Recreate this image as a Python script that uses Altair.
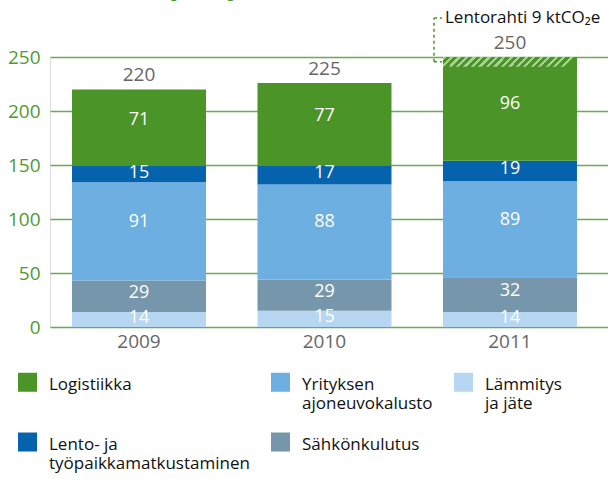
import altair as alt
import pandas as pd

# ---- data ----
years = ["2009", "2010", "2011"]
lammitys = [14, 15, 14]          # Lämmitys ja jäte
sahko = [29, 29, 32]             # Sähkönkulutus
ajoneuvo = [91, 88, 89]          # Yrityksen ajoneuvokalusto
lento = [15, 17, 19]             # Lento- ja työpaikkamatkustaminen
logistiikka = [71, 77, 96]       # Logistiikka
totals = [220, 225, 250]
lentorahti = [0, 0, 9]           # part of Logistiikka (hatched)
annotation_text = "Lentorahti 9 ktCO₂e"
annotation_level = 286           # height of the annotation label (value units)
title_text = "Hiilijalanjälki, ktCO₂"   # cropped heading at the top edge

stack_order = ["Lämmitys ja jäte", "Sähkönkulutus", "Yrityksen ajoneuvokalusto",
               "Lento- ja työpaikkamatkustaminen", "Logistiikka"]
series = [lammitys, sahko, ajoneuvo, lento, logistiikka]
legend_order = ["Logistiikka", "Yrityksen ajoneuvokalusto", "Lämmitys ja jäte",
                "Lento- ja työpaikkamatkustaminen", "Sähkönkulutus"]
legend_colors = ["#4a9428", "#6cafe0", "#b6d6f1", "#0562ac", "#7596ab"]

GREEN = "#4a9428"
AXIS_GREEN = "#4f9a2e"
GRID_GREEN = "#6aab4c"
FONT = "Open Sans"
LABEL_FRAC = 0.6   # where in a (solid) segment its value label sits

# ---- tables ----
rows = []
for yi, yr in enumerate(years):
    base = 0
    for k, (cat, vals) in enumerate(zip(stack_order, series)):
        v = vals[yi]
        solid = v - (lentorahti[yi] if cat == "Logistiikka" else 0)
        rows.append({"year": yr, "category": cat, "value": v, "y0": base,
                     "y1": base + v, "lab": base + solid * LABEL_FRAC, "order": k})
        base += v
df = pd.DataFrame(rows)

tops = df.groupby("year", as_index=False)["y1"].max()
df_tot = pd.DataFrame({"year": years, "total": totals})
df_tot = df_tot.merge(tops, on="year")

df_hatch = df_tot.copy()
df_hatch["h"] = lentorahti
df_hatch = df_hatch[df_hatch["h"] > 0].copy()
df_hatch["h0"] = df_hatch["y1"] - df_hatch["h"]
df_hatch["hmid"] = df_hatch["y1"] - df_hatch["h"] / 2

df_ann = pd.DataFrame({"year": df_hatch["year"], "lo": df_hatch["hmid"],
                       "hi": [annotation_level] * len(df_hatch),
                       "label": [annotation_text] * len(df_hatch)})
df_ticks = pd.concat([
    pd.DataFrame({"year": df_ann["year"], "yy": df_ann["lo"]}),
    pd.DataFrame({"year": df_ann["year"], "yy": df_ann["hi"]}),
])

# ---- scales / axes ----
xscale = alt.Scale(domain=years, paddingInner=0.2776, paddingOuter=0.143, align=0.415)
xaxis = alt.Axis(title=None, ticks=False, domain=False, labelFontSize=19,
                 labelColor="#666666", labelFont=FONT, labelPadding=5, labelAngle=0)
yscale = alt.Scale(domain=[0, 250], nice=False, zero=True)
yaxis = alt.Axis(title=None, values=[0, 50, 100, 150, 200, 250], grid=True,
                 gridColor=GRID_GREEN, gridWidth=1.6, ticks=False, domain=False,
                 labelFontSize=19, labelColor=AXIS_GREEN, labelFont=FONT,
                 labelPadding=10)

X = lambda **kw: alt.X("year:N", scale=xscale, axis=xaxis, **kw)

label_expr = ("datum.label == 'Yrityksen ajoneuvokalusto' ? ['Yrityksen', 'ajoneuvokalusto'] : "
              "datum.label == 'Lämmitys ja jäte' ? ['Lämmitys', 'ja jäte'] : "
              "datum.label == 'Lento- ja työpaikkamatkustaminen' ? ['Lento- ja', 'työpaikkamatkustaminen'] : "
              "[datum.label, '']")

legend = alt.Legend(title=None, orient="none", legendX=-32, legendY=310, columns=3,
                    direction="horizontal",
                    symbolType="M-1,-0.42H1V1.58H-1Z", symbolSize=361,
                    symbolStrokeWidth=0, symbolOpacity=1, labelFontSize=17,
                    labelFont=FONT, labelColor="#111111", labelOffset=12,
                    columnPadding=21, rowPadding=15, gridAlign="each",
                    labelLimit=400, labelBaseline="top", labelExpr=label_expr)

bars = alt.Chart(df).mark_bar().encode(
    x=X(),
    y=alt.Y("y0:Q", scale=yscale, axis=yaxis),
    y2="y1:Q",
    color=alt.Color("category:N", scale=alt.Scale(domain=legend_order, range=legend_colors),
                    legend=legend),
)

# hatched (Lentorahti) piece
N = 18
stops = []
for i in range(N):
    a = i / N
    b = (i + 0.42) / N
    c = (i + 1) / N
    stops += [{"offset": a, "color": "#a8d194"}, {"offset": b, "color": "#a8d194"},
              {"offset": b, "color": GREEN}, {"offset": c, "color": GREEN}]
gradient = {"gradient": "linear", "x1": 0, "y1": 0, "x2": 1, "y2": 0.072, "stops": stops}

hatch = alt.Chart(df_hatch).mark_bar(fill=gradient).encode(
    x=X(), y=alt.Y("h0:Q", scale=yscale, axis=yaxis), y2="y1:Q")

seg_labels = alt.Chart(df).mark_text(color="white", fontSize=18, font=FONT,
                                     baseline="middle").encode(
    x=X(), y=alt.Y("lab:Q", scale=yscale, axis=yaxis), text="value:Q")

tot_labels = alt.Chart(df_tot).mark_text(color="#666666", fontSize=19, font=FONT,
                                         baseline="alphabetic", dy=-8).encode(
    x=X(), y=alt.Y("y1:Q", scale=yscale, axis=yaxis), text="total:Q")

vrule = alt.Chart(df_ann).mark_rule(color=GREEN, strokeDash=[3, 3], strokeWidth=1.5,
                                    xOffset=-9).encode(
    x=X(bandPosition=0), y=alt.Y("lo:Q", scale=yscale, axis=yaxis), y2="hi:Q")

hrules = alt.Chart(df_ticks).mark_rule(color=GREEN, strokeDash=[3, 3], strokeWidth=1.5,
                                       xOffset=-9, x2Offset=-1).encode(
    x=X(bandPosition=0), x2=alt.X2("year:N", bandPosition=0),
    y=alt.Y("yy:Q", scale=yscale, axis=yaxis))

ann_text = alt.Chart(df_ann).mark_text(align="left", baseline="middle", dx=2, fontSize=17,
                                       font=FONT, color="#111111").encode(
    x=X(bandPosition=0), y=alt.Y("hi:Q", scale=yscale, axis=yaxis), text="label:N")

# heading, cropped by the top edge as in the reference
heading = alt.Chart(pd.DataFrame({"t": [title_text]})).mark_text(
    align="left", baseline="alphabetic", fontSize=23, fontWeight="bold",
    font=FONT, color=AXIS_GREEN).encode(
    x=alt.value(77), y=alt.value(-62), text="t:N")

chart = alt.layer(bars, hatch, seg_labels, tot_labels, vrule, hrules, ann_text,
                  heading).properties(
    width=558, height=270,
    padding={"left": 50, "top": 57, "right": 0, "bottom": 152},
    autosize="none",
).configure_view(stroke=None).configure(background="white")

chart.save("out.html", embed_options={"renderer": "svg", "actions": False})
